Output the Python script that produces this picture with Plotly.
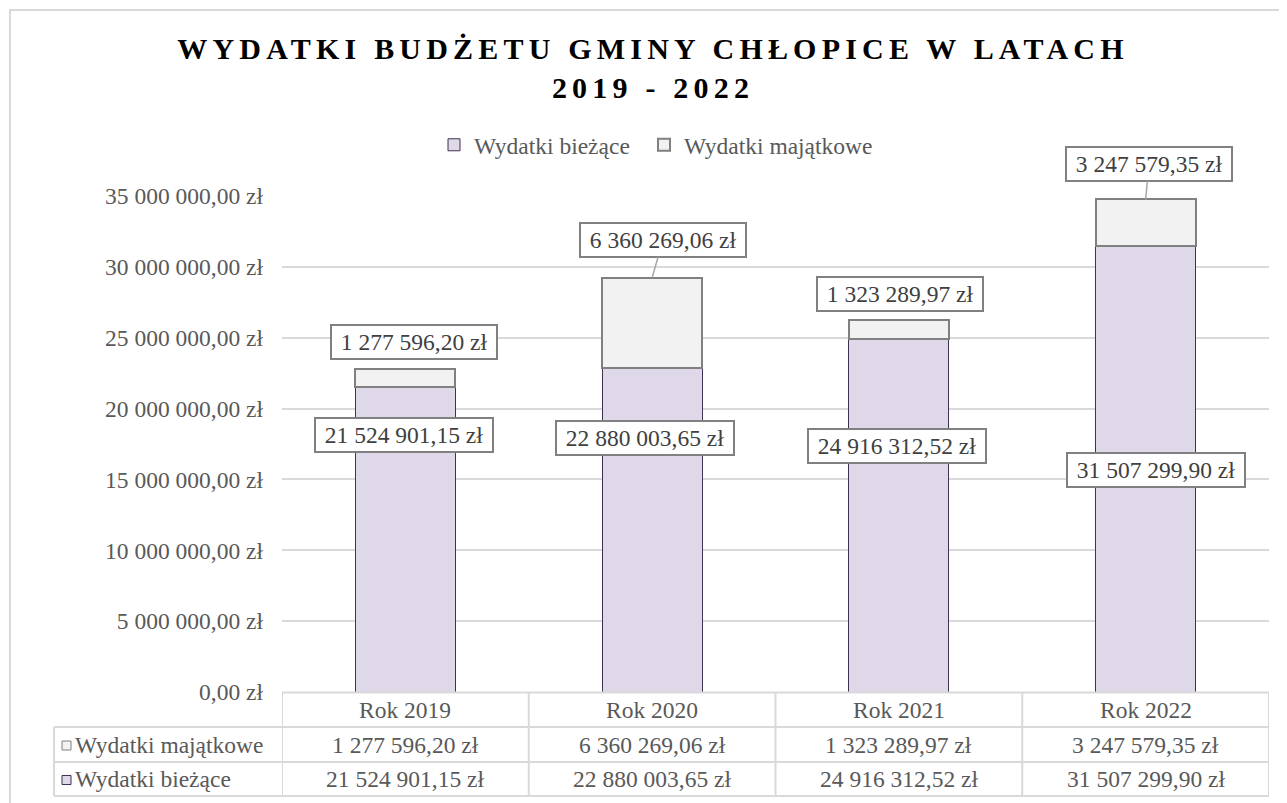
import plotly.graph_objects as go

# ---------------- data ----------------
categories = ["Rok 2019", "Rok 2020", "Rok 2021", "Rok 2022"]
series_names = ["Wydatki bieżące", "Wydatki majątkowe"]
wydatki_biezace = [21524901.15, 22880003.65, 24916312.52, 31507299.90]
wydatki_majatkowe = [1277596.20, 6360269.06, 1323289.97, 3247579.35]
tick_values = [0, 5e6, 10e6, 15e6, 20e6, 25e6, 30e6, 35e6]
title_lines = ["WYDATKI BUDŻETU GMINY CHŁOPICE W LATACH", "2019 - 2022"]


def zl(v):
    s = f"{v:,.2f}".replace(",", " ").replace(".", ",")
    return s + " zł"


tick_labels = [zl(v) for v in tick_values]

# ---------------- layout geometry ----------------
# page pixel coordinates of the reference; the page body has an 8px margin
OFF = 8
W, H = 1287 - OFF, 803 - OFF
PX_L, PX_R = 282, 1269
PY_T, PY_B = 196, 692
Y_MAX = 35e6
FONT = "Liberation Serif, Times New Roman, serif"
FS = 23.5
TXT = "#595959"
GRID = "#D9D9D9"
C_BIE = "#DFD8E8"
C_BIE_LINE = "#3F3151"
C_MAJ = "#F2F2F2"
C_MAJ_LINE = "#808080"


def fx(px):
    return (px - PX_L) / (PX_R - PX_L)


def fy(py):
    return (PY_B - py) / (PY_B - PY_T)


CAT_W = (PX_R - PX_L) / len(categories)


def cat_px(i):
    return PX_L + CAT_W * (i + 0.5)


def val_py(v):
    return PY_B - v / Y_MAX * (PY_B - PY_T)


CW = {"0": .5, "1": .5, "2": .5, "3": .5, "4": .5, "5": .5, "6": .5, "7": .5,
      "8": .5, "9": .5, " ": .25, ",": .25, "z": .444, "ł": .278}


def text_w(s, size):
    return sum(CW.get(ch, .5) for ch in s) * size


fig = go.Figure()
fig.add_trace(go.Bar(x=categories, y=wydatki_biezace, name=series_names[0],
                     marker=dict(color=C_BIE, line=dict(color=C_BIE_LINE, width=1)),
                     width=0.405, legend="legend"))
fig.add_trace(go.Bar(x=categories, y=wydatki_majatkowe, name=series_names[1],
                     marker=dict(color=C_MAJ, line=dict(color=C_MAJ_LINE, width=2)),
                     width=0.405, legend="legend2"))

annotations = []
shapes = []

# ---------------- data labels ----------------
bie_label_pos = [(404, 435), (645, 438), (897, 446), (1156, 470)]
maj_label_pos = [(414, 342), (663, 240), (900, 294), (1149, 164)]
maj_leader = [False, True, False, True]

box_style = dict(bgcolor="white", bordercolor="#808080", borderwidth=2,
                 borderpad=3, font=dict(family=FONT, size=FS, color="#404040"))

for i in range(len(categories)):
    t = zl(wydatki_biezace[i])
    cx, cy = bie_label_pos[i]
    annotations.append(dict(text=t, xref="x", x=i, xshift=cx - cat_px(i),
                            yref="paper", y=fy(cy), yanchor="middle", xanchor="center",
                            showarrow=False, width=text_w(t, FS) + 12, **box_style))
    t = zl(wydatki_majatkowe[i])
    cx, cy = maj_label_pos[i]
    if maj_leader[i]:
        top = wydatki_biezace[i] + wydatki_majatkowe[i]
        annotations.append(dict(text=t, xref="x", x=i, yref="y", y=top,
                                showarrow=True, arrowhead=0, arrowwidth=1.5,
                                arrowcolor="#A6A6A6", axref="pixel", ayref="pixel",
                                ax=cx - cat_px(i), ay=cy - val_py(top),
                                width=text_w(t, FS) + 12, **box_style))
    else:
        annotations.append(dict(text=t, xref="x", x=i, xshift=cx - cat_px(i),
                                yref="paper", y=fy(cy), yanchor="middle", xanchor="center",
                                showarrow=False, width=text_w(t, FS) + 12, **box_style))

# ---------------- data table below the chart ----------------
ROW_LINES = [692.5, 727, 762, 796]
ROW_C = [710, 744.5, 779]
TBL_L = 54
tf = dict(family=FONT, size=FS, color=TXT)
for i, c in enumerate(categories):
    for txt, rc in ((c, ROW_C[0]),
                    (zl(wydatki_majatkowe[i]), ROW_C[1]),
                    (zl(wydatki_biezace[i]), ROW_C[2])):
        annotations.append(dict(text=txt, xref="x", x=i, xanchor="center",
                                yref="paper", y=fy(rc), yanchor="middle",
                                showarrow=False, font=tf))

row_series = [(series_names[1], C_MAJ, C_MAJ_LINE, ROW_C[1]),
              (series_names[0], C_BIE, C_BIE_LINE, ROW_C[2])]
for name, fc, lc, rc in row_series:
    annotations.append(dict(text=name, xref="paper", x=fx(73), xanchor="left",
                            yref="paper", y=fy(rc), yanchor="middle",
                            showarrow=False, font=tf))
    shapes.append(dict(type="rect", xref="paper", yref="paper",
                       x0=fx(62), x1=fx(71), y0=fy(rc + 5.5), y1=fy(rc - 3.5),
                       fillcolor=fc, line=dict(color=lc, width=1), layer="above"))

line_st = dict(color=GRID, width=2)
shapes.append(dict(type="line", xref="paper", yref="paper", x0=0, x1=1,
                   y0=fy(ROW_LINES[0]), y1=fy(ROW_LINES[0]), line=line_st))
for r in ROW_LINES[1:]:
    shapes.append(dict(type="line", xref="paper", yref="paper", x0=fx(TBL_L), x1=1,
                       y0=fy(r), y1=fy(r), line=line_st))
for k in range(len(categories) + 1):
    shapes.append(dict(type="line", xref="x", yref="paper", x0=k - 0.5, x1=k - 0.5,
                       y0=fy(ROW_LINES[0]), y1=fy(ROW_LINES[-1]), line=line_st))
shapes.append(dict(type="line", xref="paper", yref="paper", x0=fx(TBL_L), x1=fx(TBL_L),
                   y0=fy(ROW_LINES[1]), y1=fy(ROW_LINES[-1]), line=line_st))

# outer chart border
shapes.append(dict(type="rect", xref="paper", yref="paper", x0=fx(10), x1=fx(1320),
                   y0=fy(1000), y1=fy(10), line=dict(color=GRID, width=2),
                   fillcolor="rgba(0,0,0,0)"))

sp = "letter-spacing:5.2px"
title_text = "<br>".join(f"<span style='{sp}'>{t}</span>" for t in title_lines)

legend_style = dict(orientation="h", xanchor="left", y=fy(145), yanchor="middle",
                    font=dict(family=FONT, size=FS, color=TXT),
                    bgcolor="rgba(0,0,0,0)")

fig.update_layout(
    width=W, height=H,
    margin=dict(l=PX_L - OFF, r=W - (PX_R - OFF), t=PY_T - OFF, b=H - (PY_B - OFF)),
    paper_bgcolor="white", plot_bgcolor="white",
    barmode="stack",
    title=dict(text=title_text, x=(653 - OFF) / W, xref="container", xanchor="center",
               y=1 - 51 / H, yref="container", yanchor="top",
               font=dict(family=FONT, size=30, color="black", weight="bold")),
    legend=dict(x=fx(434), **legend_style),
    legend2=dict(x=fx(644), **legend_style),
    xaxis=dict(range=[-0.5, 3.5], showticklabels=False, showgrid=False,
               zeroline=False, showline=False, fixedrange=True),
    yaxis=dict(range=[0, Y_MAX], tickvals=tick_values, ticktext=tick_labels,
               showgrid=True, gridcolor=GRID, gridwidth=1.5, zeroline=False,
               showline=False, ticklabelstandoff=18,
               tickfont=dict(family=FONT, size=FS, color=TXT)),
    annotations=annotations,
    shapes=shapes,
    showlegend=True,
)

fig.write_html("out.html")
